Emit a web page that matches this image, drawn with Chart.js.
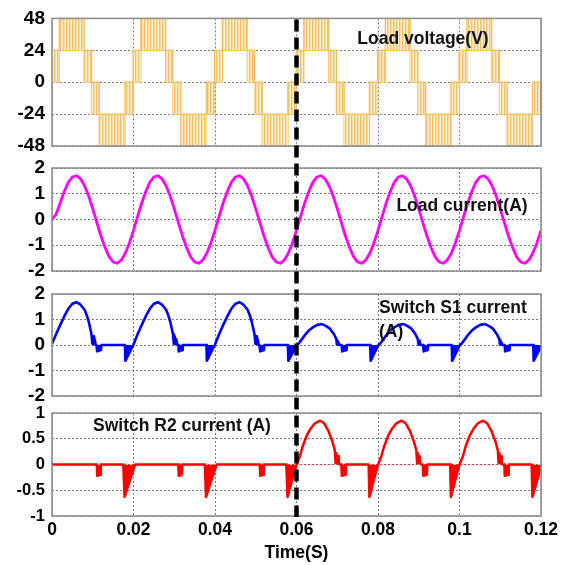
<!DOCTYPE html>
<html><head><meta charset="utf-8">
<script src="https://cdn.jsdelivr.net/npm/chart.js@4.4.1/dist/chart.umd.min.js"></script>
<style>
html,body{margin:0;padding:0;background:#fff;}
#wrap{position:relative;width:578px;height:565px;background:#fff;}
#wrap canvas{position:absolute;left:0;top:0;}
</style></head><body>
<div id="wrap">
<canvas id="c1" width="578" height="565"></canvas>
<canvas id="c2" width="578" height="565"></canvas>
<canvas id="c3" width="578" height="565"></canvas>
<canvas id="c4" width="578" height="565"></canvas>
</div>
<script>
// ---------- data ----------
const xTicks = [0, 0.02, 0.04, 0.06, 0.08, 0.1, 0.12];
const splitTime = 0.06;
const voltageTicks = [-48, -24, 0, 24, 48];
const currentTicks = [-2, -1, 0, 1, 2];
const s1Ticks = [-2, -1, 0, 1, 2];
const r2Ticks = [-1, -0.5, 0, 0.5, 1];

// load voltage: PWM band segments (start time, lower level, upper level)
const voltageSegStart = [
  0, 0.0018, 0.0079, 0.0097, 0.0116, 0.0179,
  0.0199, 0.0218, 0.0279, 0.0297, 0.0316, 0.0379,
  0.0399, 0.0418, 0.0479, 0.0497, 0.0516, 0.0579,
  0.0599, 0.0618, 0.0679, 0.0698, 0.0717, 0.0779,
  0.0799, 0.0818, 0.0879, 0.0898, 0.0917, 0.0979,
  0.0999, 0.1018, 0.1079, 0.1098, 0.1117, 0.1179,
  0.12
];
const voltageLow = [
  0, 24, 0, -24, -48, -24,
  0, 24, 0, -24, -48, -24,
  0, 24, 0, -24, -48, -24,
  0, 24, 0, -24, -48, -24,
  0, 24, 0, -24, -48, -24,
  0, 24, 0, -24, -48, -24,
  -24
];
const voltageHigh = [
  24, 48, 24, 0, -24, 0,
  24, 48, 24, 0, -24, 0,
  24, 48, 24, 0, -24, 0,
  24, 48, 24, 0, -24, 0,
  24, 48, 24, 0, -24, 0,
  24, 48, 24, 0, -24, 0,
  0
];

// load current, one sample per millisecond
const loadCurrentStep = 0.001;
const loadCurrent = [
  0, 0.2, 0.63, 1.08, 1.44, 1.65, 1.7, 1.58, 1.31, 0.91, 0.42, -0.11, -0.63, -1.08, -1.44, -1.65, -1.7, -1.58, -1.31, -0.91,
  -0.42, 0.11, 0.63, 1.08, 1.44, 1.65, 1.7, 1.58, 1.31, 0.91, 0.42, -0.11, -0.63, -1.08, -1.44, -1.65, -1.7, -1.58, -1.31, -0.91,
  -0.42, 0.11, 0.63, 1.08, 1.44, 1.65, 1.7, 1.58, 1.31, 0.91, 0.42, -0.11, -0.63, -1.08, -1.44, -1.65, -1.7, -1.58, -1.31, -0.91,
  -0.42, 0.11, 0.63, 1.08, 1.44, 1.65, 1.7, 1.58, 1.31, 0.91, 0.42, -0.11, -0.63, -1.08, -1.44, -1.65, -1.7, -1.58, -1.31, -0.91,
  -0.42, 0.11, 0.63, 1.08, 1.44, 1.65, 1.7, 1.58, 1.31, 0.91, 0.42, -0.11, -0.63, -1.08, -1.44, -1.65, -1.7, -1.58, -1.31, -0.91,
  -0.42, 0.11, 0.63, 1.08, 1.44, 1.65, 1.7, 1.58, 1.31, 0.91, 0.42, -0.11, -0.63, -1.08, -1.44, -1.65, -1.7, -1.58, -1.31, -0.91,
  -0.42
];

// switch S1 current
const s1Time = [
  0, 0.001, 0.002, 0.003, 0.004, 0.005, 0.006, 0.007, 0.008, 0.0085, 0.009, 0.0097, 0.0099, 0.0101, 0.0103, 0.0105, 0.0107, 0.0109, 0.011, 0.0111, 0.012, 0.0121, 0.0179, 0.018,
  0.02, 0.021, 0.022, 0.023, 0.024, 0.025, 0.026, 0.027, 0.028, 0.0285, 0.029, 0.0297, 0.0299, 0.0301, 0.0303, 0.0305, 0.0307, 0.0309, 0.031, 0.0311, 0.032, 0.0321, 0.0379, 0.038,
  0.04, 0.041, 0.042, 0.043, 0.044, 0.045, 0.046, 0.047, 0.048, 0.0485, 0.049, 0.0497, 0.0499, 0.0501, 0.0503, 0.0505, 0.0507, 0.0509, 0.051, 0.0511, 0.052, 0.0521, 0.0579, 0.058,
  0.0601, 0.0605, 0.0613, 0.0621, 0.0631, 0.0641, 0.0651, 0.0662, 0.0672, 0.0682, 0.0692, 0.0698, 0.0699, 0.0701, 0.0702, 0.0703, 0.0705, 0.0711, 0.0712, 0.0722, 0.0723, 0.0781, 0.0782,
  0.0801, 0.0805, 0.0813, 0.0821, 0.0831, 0.0841, 0.0851, 0.0862, 0.0872, 0.0882, 0.0892, 0.0898, 0.0899, 0.0901, 0.0902, 0.0903, 0.0905, 0.0911, 0.0912, 0.0922, 0.0923, 0.0981, 0.0982,
  0.1001, 0.1005, 0.1013, 0.1021, 0.1031, 0.1041, 0.1051, 0.1062, 0.1072, 0.1082, 0.1092, 0.1098, 0.1099, 0.1101, 0.1102, 0.1103, 0.1105, 0.1111, 0.1112, 0.1122, 0.1123, 0.1181, 0.1182, 0.12
];
const s1Current = [
  0.05, 0.42, 0.78, 1.12, 1.42, 1.62, 1.68, 1.58, 1.38, 1.18, 0.92, 0.42, 0.05, 0.34, 0.03, 0.22, 0.02, 0, 0, -0.25, -0.2, 0, 0, -0.62,
  0.02, 0.42, 0.78, 1.12, 1.42, 1.62, 1.68, 1.58, 1.38, 1.18, 0.92, 0.42, 0.05, 0.34, 0.03, 0.22, 0.02, 0, 0, -0.25, -0.2, 0, 0, -0.62,
  0.02, 0.42, 0.78, 1.12, 1.42, 1.62, 1.68, 1.58, 1.38, 1.18, 0.92, 0.42, 0.05, 0.34, 0.03, 0.22, 0.02, 0, 0, -0.25, -0.2, 0, 0, -0.62,
  0, 0.05, 0.22, 0.4, 0.58, 0.7, 0.79, 0.82, 0.75, 0.64, 0.42, 0.22, 0.02, 0.16, 0.02, 0.1, 0, 0, -0.25, -0.2, 0, 0, -0.62,
  0, 0.05, 0.22, 0.4, 0.58, 0.7, 0.79, 0.82, 0.75, 0.64, 0.42, 0.22, 0.02, 0.16, 0.02, 0.1, 0, 0, -0.25, -0.2, 0, 0, -0.62,
  0, 0.05, 0.22, 0.4, 0.58, 0.7, 0.79, 0.82, 0.75, 0.64, 0.42, 0.22, 0.02, 0.16, 0.02, 0.1, 0, 0, -0.25, -0.2, 0, 0, -0.62, -0.05
];

// switch R2 current
const r2Time = [
  0, 0.011, 0.0111, 0.0119, 0.012, 0.0175, 0.0178, 0.0204,
  0.031, 0.0311, 0.0319, 0.032, 0.0375, 0.0378, 0.0404,
  0.051, 0.0511, 0.0519, 0.052, 0.0575, 0.0578, 0.06,
  0.0608, 0.0615, 0.0625, 0.0635, 0.0645, 0.0658, 0.0668, 0.0678, 0.0688, 0.0694, 0.0696, 0.0698, 0.07, 0.0702, 0.0704, 0.0706, 0.071, 0.0711, 0.072, 0.0721, 0.0777, 0.0779, 0.08,
  0.0808, 0.0815, 0.0825, 0.0835, 0.0845, 0.0858, 0.0868, 0.0878, 0.0888, 0.0894, 0.0896, 0.0898, 0.09, 0.0902, 0.0904, 0.0906, 0.091, 0.0911, 0.092, 0.0921, 0.0977, 0.0979, 0.1,
  0.1008, 0.1015, 0.1025, 0.1035, 0.1045, 0.1058, 0.1068, 0.1078, 0.1088, 0.1094, 0.1096, 0.1098, 0.11, 0.1102, 0.1104, 0.1106, 0.111, 0.1111, 0.112, 0.1121, 0.1177, 0.1179, 0.12
];
const r2Current = [
  0, 0, -0.22, -0.2, 0, 0, -0.63, 0,
  0, -0.22, -0.2, 0, 0, -0.63, 0,
  0, -0.22, -0.2, 0, 0, -0.63, 0,
  0.15, 0.35, 0.56, 0.7, 0.8, 0.85, 0.8, 0.66, 0.45, 0.28, 0.03, 0.22, 0.03, 0.16, 0.02, 0, 0, -0.22, -0.2, 0, 0, -0.63, 0,
  0.15, 0.35, 0.56, 0.7, 0.8, 0.85, 0.8, 0.66, 0.45, 0.28, 0.03, 0.22, 0.03, 0.16, 0.02, 0, 0, -0.22, -0.2, 0, 0, -0.63, 0,
  0.15, 0.35, 0.56, 0.7, 0.8, 0.85, 0.8, 0.66, 0.45, 0.28, 0.03, 0.22, 0.03, 0.16, 0.02, 0, 0, -0.22, -0.2, 0, 0, -0.63, -0.05
];

// ---------- drawing ----------
const FONT = "'Liberation Sans', Arial, Helvetica, sans-serif";
const charts = [];
const panels = [
  {id: 'c1', top: 16, bottomPad: 419, ticks: voltageTicks, tickSize: 19, bottom: false},
  {id: 'c2', top: 168, bottomPad: 294, ticks: currentTicks, tickSize: 19, bottom: false},
  {id: 'c3', top: 294, bottomPad: 169, ticks: s1Ticks, tickSize: 19, bottom: false},
  {id: 'c4', top: 413, bottomPad: 0, ticks: r2Ticks, tickSize: 16.5, bottom: true}
];

const framePlugin = {
  id: 'frame',
  afterDraw(chart) {
    const {ctx, chartArea: a} = chart;
    ctx.save();
    ctx.strokeStyle = '#8a8a8a';
    ctx.lineWidth = 1.5;
    ctx.strokeRect(a.left, a.top, a.right - a.left, a.bottom - a.top);
    ctx.restore();
  }
};

function labelPlugin(items) {
  return {
    id: 'panelLabel',
    afterDraw(chart) {
      const ctx = chart.ctx;
      ctx.save();
      ctx.font = 'bold 17.5px ' + FONT;
      ctx.fillStyle = '#111';
      ctx.textBaseline = 'middle';
      for (const it of items) {
        ctx.textAlign = it.align;
        ctx.fillText(it.text, it.x, it.y);
      }
      ctx.restore();
    }
  };
}

const splitPlugin = {
  id: 'split',
  afterDraw(chart) {
    const ctx = chart.ctx;
    const x = chart.scales.x.getPixelForValue(splitTime);
    const top = charts.length ? charts[0].chartArea.top : panels[0].top;
    const bottom = chart.chartArea.bottom + 1;
    ctx.save();
    ctx.strokeStyle = '#000';
    ctx.lineWidth = 4.5;
    ctx.setLineDash([12, 6]);
    ctx.beginPath();
    ctx.moveTo(x, top + 1);
    ctx.lineTo(x, bottom);
    ctx.stroke();
    ctx.restore();
  }
};

function build(i, datasets, extraPlugins) {
  const p = panels[i];
  const grid = {color: '#7a7a7a', lineWidth: 1, drawTicks: false};
  const border = {display: false, dash: [2, 2]};
  const chart = new Chart(document.getElementById(p.id), {
    type: 'line',
    data: {datasets},
    options: {
      responsive: false, animation: false, devicePixelRatio: 1, events: [],
      layout: {padding: {top: p.top, bottom: p.bottomPad, left: 0, right: 37}},
      plugins: {legend: {display: false}, tooltip: {enabled: false}},
      elements: {point: {radius: 0}, line: {tension: 0, borderJoinStyle: 'round'}},
      scales: {
        x: {
          type: 'linear', min: xTicks[0], max: xTicks[xTicks.length - 1],
          afterBuildTicks: s => { s.ticks = xTicks.map(v => ({value: v})); },
          grid, border,
          ticks: {display: p.bottom, autoSkip: false, maxRotation: 0, minRotation: 0, padding: 4,
                  color: '#000', font: {family: FONT, size: 17.5, weight: 'bold'},
                  callback: v => String(v)},
          title: {display: p.bottom, text: 'Time(S)', color: '#000',
                  font: {family: FONT, size: 17.5, weight: 'bold'}, padding: {top: 0, bottom: 1}},
          afterFit: s => { s.height = p.bottom ? 49 : 0; }
        },
        y: {
          type: 'linear', min: p.ticks[0], max: p.ticks[p.ticks.length - 1],
          afterBuildTicks: s => { s.ticks = p.ticks.map(v => ({value: v})); },
          grid, border,
          ticks: {autoSkip: false, padding: 7, color: '#000', font: {family: FONT, size: p.tickSize, weight: 'bold'},
                  callback: v => String(v)},
          afterFit: s => { s.width = 52; }
        }
      }
    },
    plugins: [framePlugin, ...extraPlugins]
  });
  charts.push(chart);
  return chart;
}

// stripe pattern for the PWM bands
const stripeCanvas = document.createElement('canvas');
stripeCanvas.width = 3; stripeCanvas.height = 1;
const sg = stripeCanvas.getContext('2d');
sg.fillStyle = '#fff1da'; sg.fillRect(0, 0, 3, 1);
sg.fillStyle = '#f5c262'; sg.fillRect(0, 0, 1, 1);
sg.fillStyle = '#fbdca5'; sg.fillRect(1, 0, 1, 1);
const stripe = document.getElementById('c1').getContext('2d').createPattern(stripeCanvas, 'repeat');

build(0, [
  {data: voltageSegStart.map((t, i) => ({x: t, y: voltageHigh[i]})), stepped: true,
   borderColor: '#f4bd5c', borderWidth: 1.3, backgroundColor: stripe, fill: '+1'},
  {data: voltageSegStart.map((t, i) => ({x: t, y: voltageLow[i]})), stepped: true,
   borderColor: '#f4bd5c', borderWidth: 1.3, fill: false}
], [labelPlugin([{text: 'Load voltage(V)', x: 423, y: 39, align: 'center'}])]);

build(1, [
  {data: loadCurrent.map((v, i) => ({x: i * loadCurrentStep, y: v})),
   borderColor: '#ff00ff', borderWidth: 2.8, fill: false}
], [labelPlugin([{text: 'Load current(A)', x: 462, y: 206, align: 'center'}])]);

build(2, [
  {data: s1Time.map((t, i) => ({x: t, y: s1Current[i]})),
   borderColor: '#0000ff', borderWidth: 2.6,
   fill: {target: 'origin', above: 'rgba(0,0,0,0)', below: '#0000ff'}}
], [labelPlugin([
  {text: 'Switch S1 current', x: 379, y: 308, align: 'left'},
  {text: '(A)', x: 379, y: 332, align: 'left'}
])]);

build(3, [
  {data: r2Time.map((t, i) => ({x: t, y: r2Current[i]})),
   borderColor: '#ff0000', borderWidth: 2.5,
   fill: {target: 'origin', above: 'rgba(0,0,0,0)', below: '#ff0000'}}
], [labelPlugin([{text: 'Switch R2 current (A)', x: 93, y: 426, align: 'left'}]), splitPlugin]);
</script>
</body></html>
